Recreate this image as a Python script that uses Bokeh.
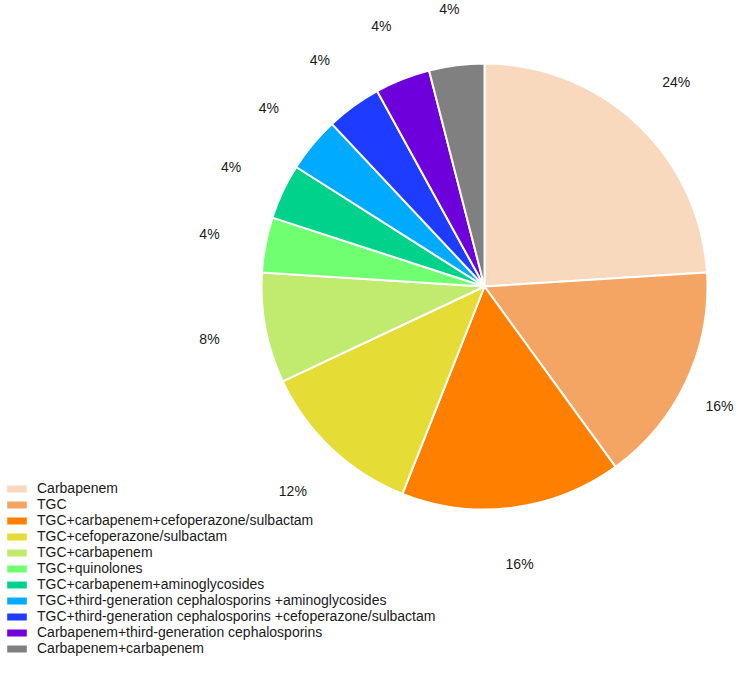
import numpy as np
from bokeh.plotting import figure
from bokeh.models import ColumnDataSource, Range1d, Legend, LegendItem
from bokeh.core.properties import value
from bokeh.embed import file_html
from bokeh.resources import INLINE

categories = [
    "Carbapenem",
    "TGC",
    "TGC+carbapenem+cefoperazone/sulbactam",
    "TGC+cefoperazone/sulbactam",
    "TGC+carbapenem",
    "TGC+quinolones",
    "TGC+carbapenem+aminoglycosides",
    "TGC+third-generation cephalosporins +aminoglycosides",
    "TGC+third-generation cephalosporins +cefoperazone/sulbactam",
    "Carbapenem+third-generation cephalosporins",
    "Carbapenem+carbapenem",
]
percent = [24, 16, 16, 12, 8, 4, 4, 4, 4, 4, 4]
colors = ["#F9D9BD", "#F4A563", "#FF8000", "#E5DC36", "#C1EB6F", "#70FF70",
          "#00D28C", "#00AAFF", "#1E3CFF", "#6E00DC", "#808080"]

W, H = 735, 665
cx, cy, R = 484, H - 286, 223
RL = 280

vals = np.array(percent, dtype=float)
frac = vals / vals.sum()
cum_end = np.cumsum(frac)
cum_start = cum_end - frac
start_angle = np.pi / 2 - cum_end * 2 * np.pi
end_angle = np.pi / 2 - cum_start * 2 * np.pi
mid = (start_angle + end_angle) / 2
lx = np.clip(cx + RL * np.cos(mid), 16, W - 16)
ly = np.clip(cy + RL * np.sin(mid), 8, H - 8)

src = ColumnDataSource(dict(
    cat=categories, color=colors, start=start_angle, end=end_angle,
    lx=lx, ly=ly, lab=[f"{v}%" for v in percent],
))

p = figure(width=W, height=H, output_backend="svg", toolbar_location=None,
           x_range=Range1d(0, W), y_range=Range1d(0, H),
           x_axis_location=None, y_axis_location=None, min_border=0)
p.outline_line_color = None
p.xgrid.visible = False
p.ygrid.visible = False

r = p.wedge(x=cx, y=cy, radius=R, start_angle="start", end_angle="end",
            fill_color="color", line_color="white", line_width=2, source=src)

p.text(x="lx", y="ly", text="lab", source=src, text_align="center",
       text_baseline="middle", text_font=value("Liberation Sans"),
       text_font_size="14px", text_color="#1a1a1a")

items = [LegendItem(label=c, renderers=[r], index=i) for i, c in enumerate(categories)]
legend = Legend(items=items, location=(3, 9), padding=0, margin=0, spacing=0,
                glyph_width=27, glyph_height=11, label_height=15,
                label_standoff=7, label_text_font="Liberation Sans",
                label_text_font_size="14px",
                label_text_color="#1a1a1a",
                border_line_color=None, background_fill_alpha=0)
p.add_layout(legend)

open("out.html", "w").write(file_html(p, INLINE))
